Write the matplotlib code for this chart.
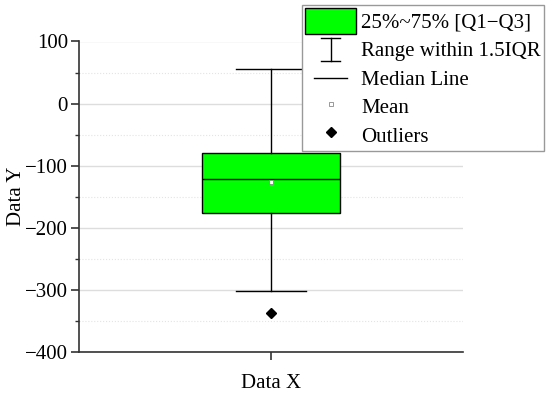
import matplotlib
matplotlib.use("Agg")
import matplotlib.pyplot as plt
from matplotlib.legend_handler import HandlerBase
from matplotlib.lines import Line2D
from matplotlib.patches import Patch
from matplotlib.ticker import MultipleLocator

# values
q1 = -176
median = -122
q3 = -80
whisker_low = -302
whisker_high = 56
mean = -126
outliers = [-337]
x_label = "Data X"
y_label = "Data Y"

plt.rcParams['font.family'] = ['Liberation Serif', 'DejaVu Serif']
plt.rcParams['font.size'] = 15


class WhiskerHandler(HandlerBase):
	# I-beam symbol for the whisker range
	def create_artists(self, legend, orig, xd, yd, w, h, fs, trans):
		cx = -xd + w / 2
		cw = 7
		lo, hi = -yd + 0.05 * h, -yd + 0.95 * h
		lines = [
			Line2D([cx, cx], [lo, hi]),
			Line2D([cx - cw, cx + cw], [lo, lo]),
			Line2D([cx - cw, cx + cw], [hi, hi]),
		]
		for l in lines:
			l.set_color('black')
			l.set_linewidth(1.0)
			l.set_transform(trans)
		return lines


class ShortLineHandler(HandlerBase):
	def create_artists(self, legend, orig, xd, yd, w, h, fs, trans):
		cx = -xd + w / 2
		cy = -yd + h / 2
		l = Line2D([cx - 12, cx + 12], [cy, cy], color='black', linewidth=1.0)
		l.set_transform(trans)
		return [l]


fig = plt.figure(figsize=(5.5, 3.93), dpi=100)
ax = fig.add_axes([79 / 550, 1 - 351.7 / 393, (463 - 79) / 550, (351.7 - 41.5) / 393])

stats = [dict(med=median, q1=q1, q3=q3, whislo=whisker_low, whishi=whisker_high,
			  mean=mean, fliers=outliers)]
ax.bxp(stats, positions=[1], widths=0.36, patch_artist=True, showmeans=True,
	   boxprops=dict(facecolor='#00ff00', edgecolor='black', linewidth=1.0),
	   medianprops=dict(color='black', linewidth=1.0),
	   whiskerprops=dict(color='black', linewidth=1.0),
	   capprops=dict(color='black', linewidth=1.0),
	   capwidths=0.18,
	   meanprops=dict(marker='s', markersize=3, markerfacecolor='white',
					  markeredgecolor='#888888', markeredgewidth=0.6),
	   flierprops=dict(marker='D', markersize=5, markerfacecolor='black',
					   markeredgecolor='black'))

ax.set_xlim(0.5, 1.5)
ax.set_ylim(-400, 100)
ax.yaxis.set_major_locator(MultipleLocator(100))
ax.yaxis.set_minor_locator(MultipleLocator(50))
ax.set_xticks([1])
ax.set_xticklabels([""])
ax.set_xlabel(x_label, labelpad=8)
ax.set_ylabel(y_label, labelpad=-1)

ax.grid(True, which='major', axis='y', color='#dddddd', linewidth=1.0)
ax.grid(True, which='minor', axis='y', color='#e4e4e4', linewidth=0.8, linestyle=':')
ax.set_axisbelow(True)
for s in ['top', 'right']:
	ax.spines[s].set_visible(False)
for s in ['left', 'bottom']:
	ax.spines[s].set_color('#333333')
	ax.spines[s].set_linewidth(1.2)
ax.tick_params(which='major', direction='out', length=6, width=1.2, color='#333333', pad=2)
ax.tick_params(which='minor', direction='out', length=3, width=1.0, color='#333333')

wh = Line2D([], [])
med_h = Line2D([], [])
handles = [
	Patch(facecolor='#00ff00', edgecolor='black'),
	wh,
	med_h,
	Line2D([], [], linestyle='none', marker='s', markersize=3, markerfacecolor='white',
		   markeredgecolor='#888888', markeredgewidth=0.6),
	Line2D([], [], linestyle='none', marker='D', markersize=5, color='black'),
]
labels = ["25%~75% [Q1\u2212Q3]", "Range within 1.5IQR", "Median Line", "Mean", "Outliers"]
leg = fig.legend(handles, labels, loc='upper right', bbox_to_anchor=(544 / 550, 1 - 5 / 393),
				 fancybox=False, edgecolor='#999999', framealpha=1, handlelength=2.45,
				 handleheight=1.5, labelspacing=0.15, borderpad=0.15, borderaxespad=0,
				 handletextpad=0.25, handler_map={wh: WhiskerHandler(), med_h: ShortLineHandler()})
leg.get_frame().set_linewidth(1.0)

fig.savefig("out.png", dpi=100)
